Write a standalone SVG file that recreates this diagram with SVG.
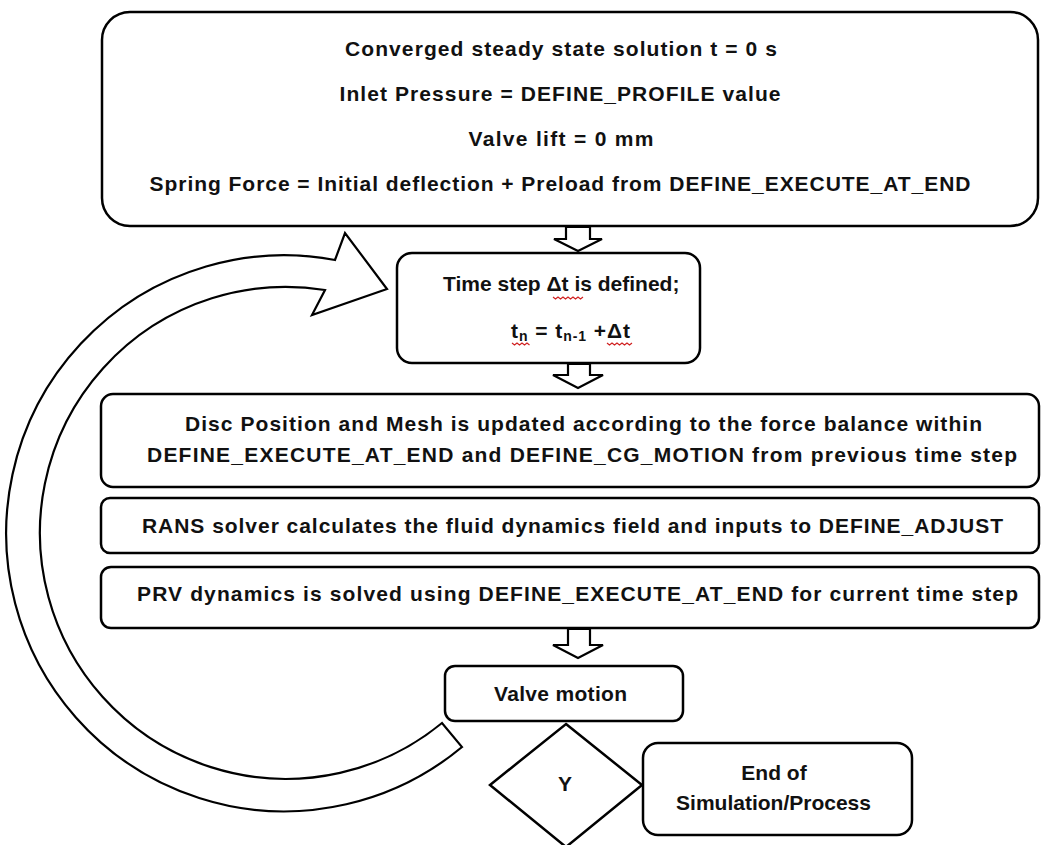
<svg xmlns="http://www.w3.org/2000/svg" width="1042" height="845" viewBox="0 0 1042 845">
<defs>
<style>
.box{fill:#fff;stroke:#000;stroke-width:2.5}
.blk{fill:#fff;stroke:#000;stroke-width:2.2;stroke-linejoin:miter}
.t{font-family:"Liberation Sans",Arial,sans-serif;font-size:21px;font-weight:bold;fill:#111}
.sq{fill:none;stroke:#d02020;stroke-width:1.2}
</style>
</defs>
<rect width="1042" height="845" fill="#fff"/>

<g id="connectors">
<path id="loop-arrow" class="blk" d="M 335,260 A 278 278 0 1 0 462,747 L 442,723 A 246 246 0 1 1 325,290 L 312,315 L 387,289 L 345,233 Z"/>
<path class="blk" d="M 566,227 L 590,227 L 590,239 L 602,239 L 578,251 L 554,239 L 566,239 Z"/>
<path class="blk" d="M 568,364 L 590,364 L 590,375 L 603,375 L 578,388 L 553,375 L 568,375 Z"/>
<path class="blk" d="M 568,629 L 590,629 L 590,645 L 603,645 L 578,658 L 553,645 L 568,645 Z"/>
</g>

<g id="init">
<rect class="box" x="102" y="12" width="936" height="214" rx="28"/>
<text class="t" x="561" y="56" text-anchor="middle" textLength="432" lengthAdjust="spacing">Converged steady state solution t = 0 s</text>
<text class="t" x="560" y="101" text-anchor="middle" textLength="441" lengthAdjust="spacing">Inlet Pressure = DEFINE_PROFILE value</text>
<text class="t" x="561" y="146" text-anchor="middle" textLength="185" lengthAdjust="spacing">Valve lift = 0 mm</text>
<text class="t" x="560" y="191" text-anchor="middle" textLength="821" lengthAdjust="spacing">Spring Force = Initial deflection + Preload from DEFINE_EXECUTE_AT_END</text>
</g>

<g id="timestep">
<rect class="box" x="397" y="253" width="303" height="110" rx="15"/>
<text class="t" x="443" y="291" font-size="19">Time step Δt is defined;</text>
<text class="t" x="511" y="338" textLength="119" lengthAdjust="spacing">t<tspan font-size="14" dy="3">n</tspan><tspan dy="-3"> = t</tspan><tspan font-size="14" dy="3">n-1</tspan><tspan dy="-3"> +Δt</tspan></text>
<path class="sq" d="M553,297 l2.5,2 l2.5,-2 l2.5,2 l2.5,-2 l2.5,2 l2.5,-2 l2.5,2 l2.5,-2 l2.5,2 l2.5,-2 l2.5,2 l2.5,-2"/>
<path class="sq" d="M512,343 l2.5,2 l2.5,-2 l2.5,2 l2.5,-2 l2.5,2 l2.5,-2 l2.5,2"/>
<path class="sq" d="M607,343 l2.5,2 l2.5,-2 l2.5,2 l2.5,-2 l2.5,2 l2.5,-2 l2.5,2 l2.5,-2 l2.5,2 l2.5,-2"/>
</g>

<g id="disc">
<rect class="box" x="101" y="394" width="938" height="93" rx="12"/>
<text class="t" x="185" y="431" textLength="797" lengthAdjust="spacing">Disc Position and Mesh is updated according to the force balance within</text>
<text class="t" x="147" y="462" textLength="870" lengthAdjust="spacing">DEFINE_EXECUTE_AT_END  and DEFINE_CG_MOTION  from previous time step</text>
</g>

<g id="rans">
<rect class="box" x="101" y="498" width="938" height="55" rx="9"/>
<text class="t" x="142" y="533" textLength="861" lengthAdjust="spacing">RANS  solver calculates  the fluid dynamics field and inputs to DEFINE_ADJUST</text>
</g>

<g id="prv">
<rect class="box" x="101" y="567" width="938" height="61" rx="10"/>
<text class="t" x="137" y="601" textLength="881" lengthAdjust="spacing">PRV dynamics is solved using DEFINE_EXECUTE_AT_END  for current time step</text>
</g>

<g id="valve">
<rect class="box" x="445" y="666" width="238" height="55" rx="10"/>
<text class="t" x="494" y="701" textLength="133" lengthAdjust="spacing">Valve motion</text>
</g>

<g id="decision">
<path class="box" d="M 566,724 L 642,785 L 566,847 L 490,785 Z"/>
<text class="t" x="565" y="791" text-anchor="middle">Y</text>
</g>

<g id="end">
<rect class="box" x="643" y="743" width="269" height="92" rx="15"/>
<text class="t" x="774" y="780" text-anchor="middle">End of</text>
<text class="t" x="773.5" y="810" text-anchor="middle">Simulation/Process</text>
</g>
</svg>
